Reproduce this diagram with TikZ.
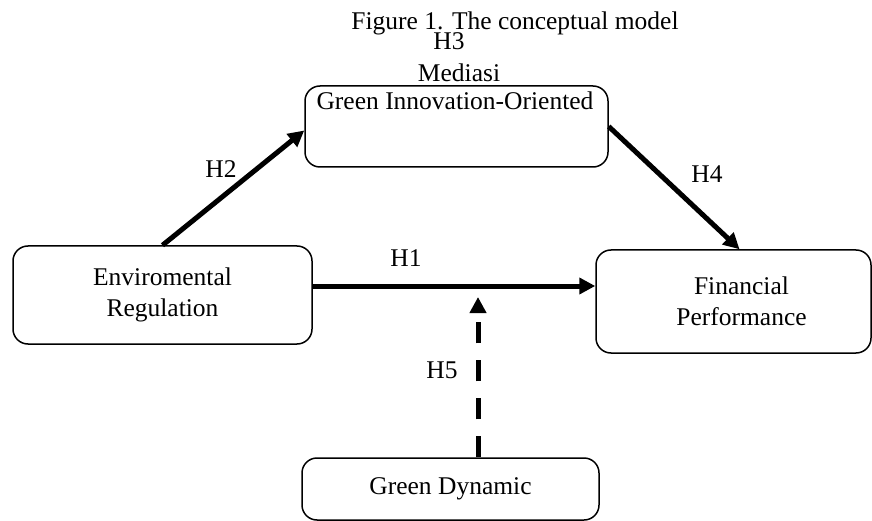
\documentclass[tikz,border=0pt]{standalone}
\usepackage{fontspec}
\setmainfont{Liberation Serif}
\usetikzlibrary{arrows.meta}
\tikzset{
	box/.style={draw, line width=1.5pt, rounded corners=15pt, inner sep=0pt},
	thick arrow/.style={line width=5pt, -{Triangle[length=16pt,width=16pt]}},
	hyp/.style={anchor=base, inner sep=0pt}
}
\begin{document}
\fontsize{25.5}{31}\selectfont
\begin{tikzpicture}[x=1pt, y=-1pt]
		\useasboundingbox (0,0) rectangle (872,521);

		\node[hyp] (title) at (515,30) {Figure 1. The conceptual model};
		\node[hyp] (h3) at (449,50) {H3};
		\node[hyp] (med) at (459,82) {Mediasi};

		\node[box, minimum width=303pt, minimum height=81pt] (gio) at (456.5,126.5) {};
		\node[hyp] (giotext) at (455,110) {Green Innovation-Oriented};
		\node[box, minimum width=299pt, minimum height=98pt, align=center] (env) at (162.5,295) {Enviromental\\Regulation};
		\node[box, minimum width=275pt, minimum height=103pt, align=center] (fin) at (733.5,301.5) {\hspace{16pt}Financial\\\hspace{16pt}Performance};
		\node[box, minimum width=297pt, minimum height=62pt] (gd) at (450.5,489) {Green Dynamic};

		\draw[thick arrow] (env.north) -- ([yshift=-4pt]gio.west);
		\draw[thick arrow] (gio.east) -- ([xshift=6pt]fin.north);
		\draw[thick arrow] ([yshift=9pt]env.east) -- ([yshift=9pt]env.east -| fin.west);
		\coordinate (mod) at (478,297);
		\draw[thick arrow, dash pattern=on 21pt off 17pt] ([xshift=27.5pt]gd.north) -- (mod);

		\node[hyp] (h1) at (406,266) {H1};
		\node[hyp] (h2) at (221,178) {H2};
		\node[hyp] (h4) at (707,183) {H4};
		\node[hyp] (h5) at (442,378) {H5};
	\end{tikzpicture}
\end{document}
